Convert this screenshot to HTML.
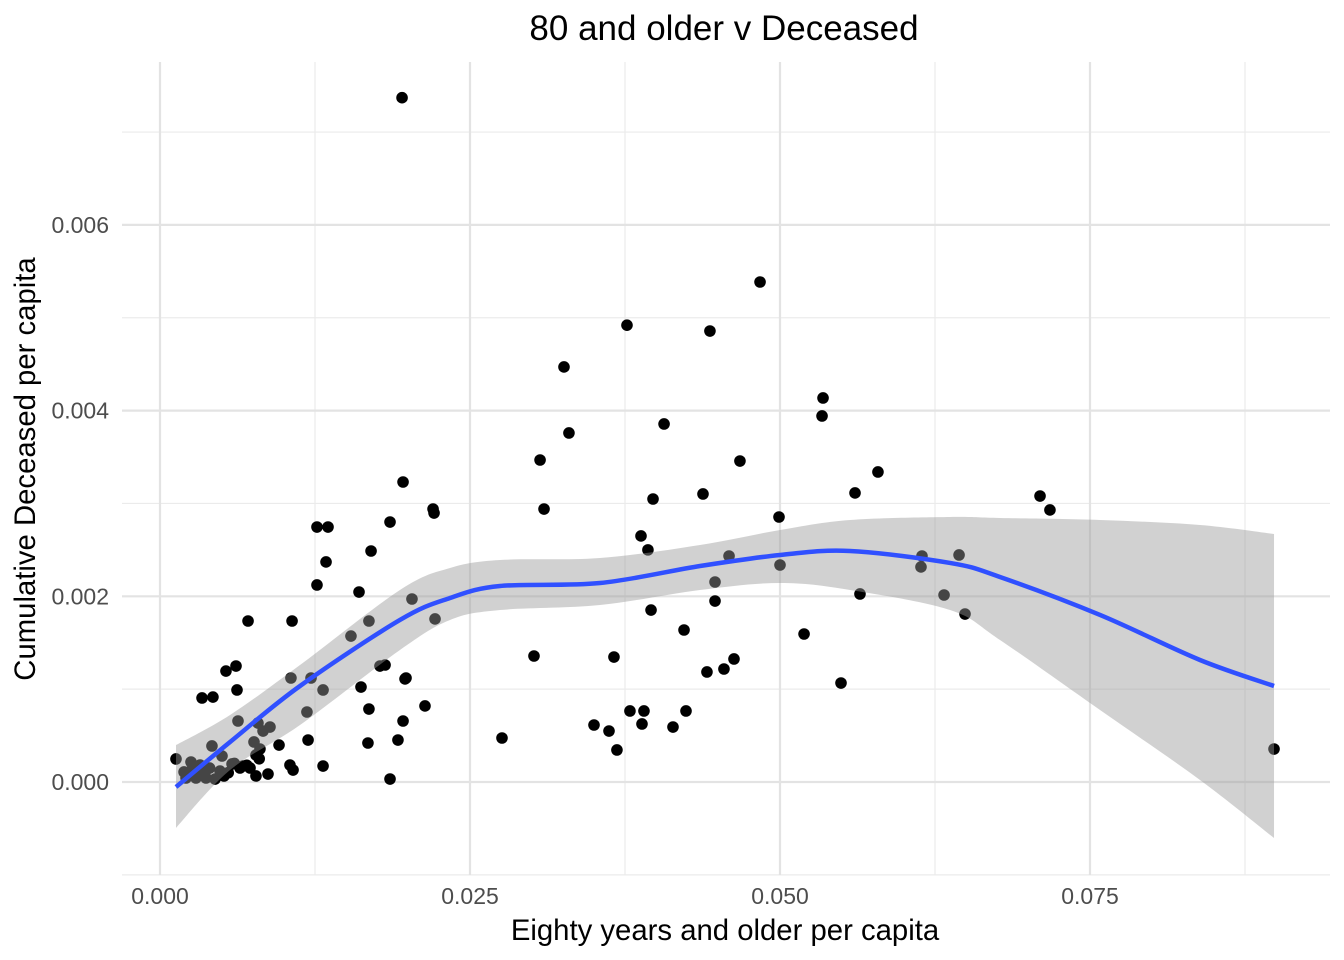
<!DOCTYPE html>
<html><head><meta charset="utf-8"><style>
body{margin:0;background:#fff;}
svg{display:block;font-family:"Liberation Sans",sans-serif;}
</style></head><body>
<svg id="chart" width="1344" height="960">
<text x="724" y="40" text-anchor="middle" font-size="35" fill="#000">80 and older v Deceased</text>
<text x="725" y="940" text-anchor="middle" font-size="29.3" fill="#000">Eighty years and older per capita</text>
<text transform="translate(35,469) rotate(-90)" text-anchor="middle" font-size="29.3" fill="#000">Cumulative Deceased per capita</text>
<g id="grid"></g>
<g id="points"></g>
<g id="smooth"></g>
<g id="axes"></g>
</svg>
<script>
const px = [0.01952,0.04839,0.03766,0.04435,0.03258,0.05347,0.05339,0.03298,0.04065,0.03065,0.04677,0.05790,0.01960,0.03976,0.04379,0.05605,0.07097,0.07177,0.03097,0.02202,0.02210,0.04992,0.01266,0.01355,0.01855,0.03879,0.03935,0.01702,0.01339,0.04589,0.06145,0.06444,0.05000,0.06137,0.01266,0.04476,0.01605,0.05645,0.06323,0.02032,0.04476,0.03960,0.06492,0.02218,0.00710,0.01065,0.01685,0.04226,0.01540,0.05194,0.03016,0.03661,0.04629,0.01815,0.01774,0.04548,0.04411,0.00613,0.00532,0.01984,0.01976,0.01056,0.01218,0.05492,0.00621,0.00339,0.00427,0.01621,0.01315,0.02137,0.01685,0.01185,0.03790,0.03903,0.04242,0.02758,0.03500,0.03887,0.04137,0.03621,0.03685,0.01960,0.00629,0.00790,0.00887,0.00831,0.01194,0.00419,0.00960,0.01919,0.01677,0.00758,0.00806,0.00774,0.00500,0.00129,0.00250,0.00323,0.00581,0.00669,0.01048,0.01315,0.00194,0.00363,0.00484,0.00645,0.00726,0.01073,0.00210,0.00290,0.00371,0.00444,0.00516,0.00774,0.00871,0.01855,0.08984,0.00250,0.00300,0.00400,0.00550,0.00600,0.00700,0.00800];
const py = [0.00737,0.005385,0.00492,0.004857,0.00447,0.004136,0.003942,0.003759,0.003856,0.003468,0.003457,0.003339,0.003231,0.003048,0.003102,0.003113,0.00308,0.00293,0.00294,0.00294,0.002897,0.002854,0.002746,0.002746,0.0028,0.00265,0.0025,0.002488,0.00237,0.002434,0.002434,0.002445,0.002337,0.002316,0.002122,0.002154,0.002046,0.002025,0.002014,0.001971,0.001949,0.001852,0.001809,0.001756,0.001734,0.001734,0.001734,0.001637,0.001572,0.001594,0.001357,0.001346,0.001325,0.00126,0.001249,0.001217,0.001185,0.001249,0.001195,0.00112,0.00111,0.00112,0.00112,0.001066,0.000991,0.000905,0.000915,0.001023,0.000991,0.000819,0.000786,0.000754,0.000765,0.000765,0.000765,0.000474,0.000614,0.000625,0.000592,0.000549,0.000345,0.000657,0.000657,0.000635,0.000592,0.000549,0.000452,0.000388,0.000398,0.000452,0.00042,0.000431,0.000355,0.000291,0.00028,0.000248,0.000215,0.000183,0.000194,0.000172,0.000183,0.000172,0.000108,0.000108,0.000118,0.000151,0.000151,0.000129,0.000043,0.000043,0.000043,0.000032,0.000065,0.000065,0.000086,0.000032,0.000355,0.00012,0.00008,0.00015,0.0001,0.0002,0.00018,0.00025];
const sx = [0.00129,0.00565,0.01129,0.01935,0.02339,0.02742,0.03548,0.04355,0.05,0.05565,0.06371,0.06774,0.07581,0.08387,0.08984];
const sFit = [-0.000054,0.000431,0.001034,0.001745,0.001982,0.002111,0.002143,0.002326,0.002445,0.002488,0.002359,0.002208,0.001799,0.001314,0.001034];
const sHi = [0.000398,0.000722,0.00126,0.002068,0.002305,0.002391,0.002413,0.002553,0.002714,0.002822,0.002854,0.002843,0.002822,0.002768,0.002671];
const sLo = [-0.000495,0.000129,0.000614,0.001422,0.001745,0.001852,0.001906,0.002068,0.002143,0.002068,0.001852,0.001529,0.000775,0.000022,-0.000603];
const xTicks = [0,0.025,0.05,0.075];
const xTickLabels = ["0.000","0.025","0.050","0.075"];
const yTicks = [0,0.002,0.004,0.006];
const yTickLabels = ["0.000","0.002","0.004","0.006"];
const xMinor = [0.0125,0.0375,0.0625,0.0875];
const yMinor = [-0.001,0.001,0.003,0.005,0.007];

const X = v => 160 + v*12400;
const Y = v => 782 - v*92850;
const NS = "http://www.w3.org/2000/svg";
function mk(parent, tag, attrs){const e=document.createElementNS(NS,tag);for(const k in attrs)e.setAttribute(k,attrs[k]);parent.appendChild(e);return e;}
function curve(P, start){let d=(start?'M':'L')+P[0][0]+','+P[0][1];
for(let i=0;i<P.length-1;i++){const p0=P[Math.max(0,i-1)],p1=P[i],p2=P[i+1],p3=P[Math.min(P.length-1,i+2)];
d+=`C${p1[0]+(p2[0]-p0[0])/6},${p1[1]+(p2[1]-p0[1])/6} ${p2[0]-(p3[0]-p1[0])/6},${p2[1]-(p3[1]-p1[1])/6} ${p2[0]},${p2[1]}`;}
return d;}
const L=122,R=1330,T=62,B=875;
const grid=document.getElementById('grid');
xMinor.forEach(v=>{const e=mk(grid,'line',{x1:X(v),x2:X(v),y1:T,y2:B,stroke:'#ebebeb','stroke-width':1.2});

});
yMinor.forEach(v=>{const e=mk(grid,'line',{x1:L,x2:R,y1:Y(v),y2:Y(v),stroke:'#ebebeb','stroke-width':1.2});

});
xTicks.forEach(v=>{const e=mk(grid,'line',{x1:X(v),x2:X(v),y1:T,y2:B,stroke:'#e3e3e3','stroke-width':2.2});

});
yTicks.forEach(v=>{const e=mk(grid,'line',{x1:L,x2:R,y1:Y(v),y2:Y(v),stroke:'#e3e3e3','stroke-width':2.2});

});
const pts=document.getElementById('points');
px.forEach((v,i)=>{const c=mk(pts,'circle',{cx:X(v),cy:Y(py[i]),r:5.8,fill:'#000'});

});
const sm=document.getElementById('smooth');
const hiP=sx.map((v,i)=>[X(v),Y(sHi[i])]);
const loP=sx.map((v,i)=>[X(v),Y(sLo[i])]).reverse();
const band=mk(sm,'path',{d:curve(hiP,true)+curve(loP,false)+'Z',fill:'#999','fill-opacity':0.45});


const P=sx.map((v,i)=>[X(v),Y(sFit[i])]);
const line=mk(sm,'path',{d:curve(P,true),fill:'none',stroke:'#3050ff','stroke-width':4.5});


const ax=document.getElementById('axes');
xTicks.forEach((v,i)=>{const t=mk(ax,'text',{x:X(v),y:904,'text-anchor':'middle','font-size':23,fill:'#4d4d4d'});t.textContent=xTickLabels[i];

});
yTicks.forEach((v,i)=>{const t=mk(ax,'text',{x:109,y:Y(v)+8,'text-anchor':'end','font-size':23,fill:'#4d4d4d'});t.textContent=yTickLabels[i];

});
</script>
</body></html>
